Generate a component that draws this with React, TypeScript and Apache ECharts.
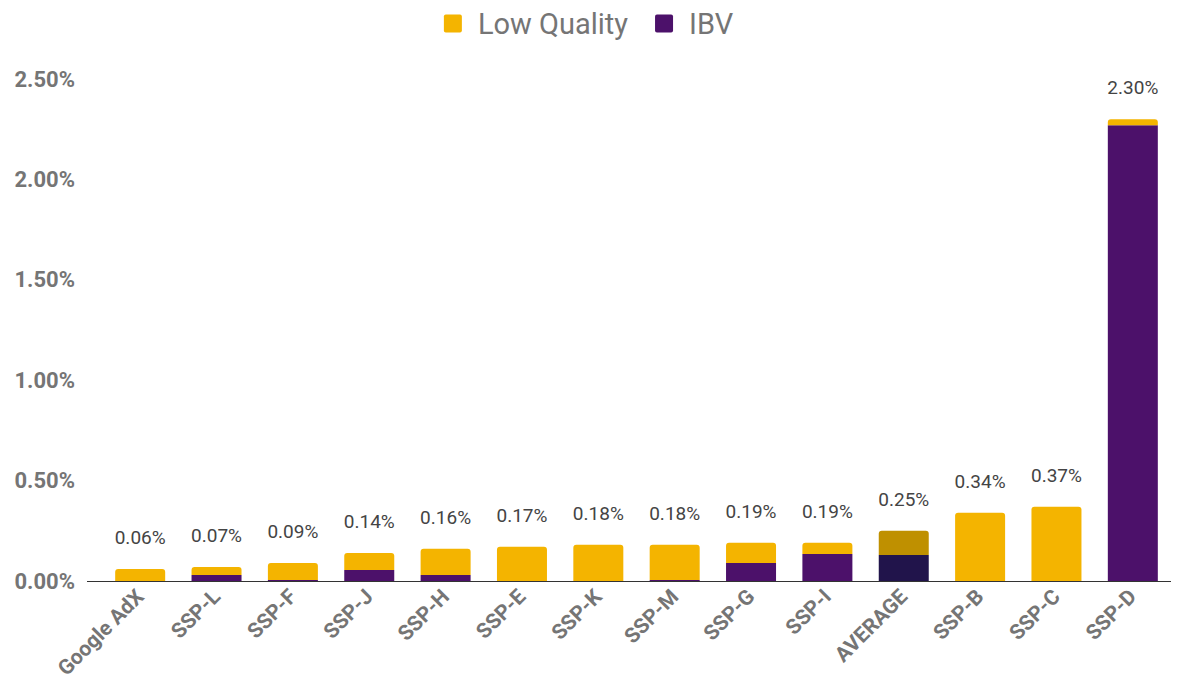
import React, { useEffect, useRef } from "react";
import * as echarts from "echarts";

// Share of impressions by supply source, split into IBV and Low Quality
const categories = [
  "Google AdX", "SSP-L", "SSP-F", "SSP-J", "SSP-H", "SSP-E", "SSP-K",
  "SSP-M", "SSP-G", "SSP-I", "AVERAGE", "SSP-B", "SSP-C", "SSP-D",
];
const ibv = [0, 0.03, 0.005, 0.055, 0.03, 0, 0, 0.005, 0.09, 0.135, 0.13, 0, 0, 2.27];
const lowQuality = [0.06, 0.04, 0.085, 0.085, 0.13, 0.17, 0.18, 0.175, 0.1, 0.055, 0.12, 0.34, 0.37, 0.03];
const yTicks = { min: 0, max: 2.5, interval: 0.5 };

const YELLOW = "#F4B400";
const PURPLE = "#4C116A";
const AVG_YELLOW = "#BF9000";
const AVG_PURPLE = "#21144B";
const FONT = "Roboto, 'Noto Sans', sans-serif";

export default function App() {
  const ref = useRef<HTMLDivElement>(null);

  useEffect(() => {
    if (!ref.current) return;
    const chart = echarts.init(ref.current, undefined, { renderer: "svg" });
    const totals = categories.map((_, i) => ibv[i] + lowQuality[i]);
    const avgIndex = categories.indexOf("AVERAGE");

    chart.setOption({
      animation: false,
      textStyle: { fontFamily: FONT },
      legend: {
        data: ["Low Quality", "IBV"],
        top: 4,
        left: "center",
        icon: "path://M2,0 L17,0 Q19,0 19,2 L19,17 Q19,19 17,19 L2,19 Q0,19 0,17 L0,2 Q0,0 2,0 Z",
        itemWidth: 18,
        itemHeight: 18,
        itemGap: 27,
        textStyle: {
          fontSize: 29,
          color: "#757575",
          fontFamily: FONT,
          padding: [0, 0, 0, 11],
        },
      },
      grid: { left: 102, right: 6, top: 79, bottom: 115 },
      // baseline rule, extending slightly left of the first category
      graphic: [
        {
          type: "line",
          z: 0,
          shape: { x1: 87, y1: 581.5, x2: 1171, y2: 581.5 },
          style: { stroke: "#333333", lineWidth: 1 },
        },
      ],
      xAxis: {
        type: "category",
        data: categories,
        axisTick: { show: false },
        axisLine: { show: false },
        axisLabel: {
          rotate: 45,
          interval: 0,
          margin: 12,
          fontSize: 21,
          fontWeight: "bold",
          color: "#757575",
          fontFamily: FONT,
        },
      },
      yAxis: {
        type: "value",
        min: yTicks.min,
        max: yTicks.max,
        interval: yTicks.interval,
        splitLine: { show: false },
        axisLine: { show: false },
        axisTick: { show: false },
        axisLabel: {
          formatter: (v: number) => v.toFixed(2) + "%",
          fontSize: 22,
          fontWeight: "bold",
          color: "#757575",
          margin: 27,
          fontFamily: FONT,
        },
      },
      series: [
        {
          name: "IBV",
          type: "bar",
          stack: "total",
          barWidth: 50,
          itemStyle: { color: PURPLE },
          data: ibv.map((v, i) =>
            i === avgIndex ? { value: v, itemStyle: { color: AVG_PURPLE } } : v
          ),
        },
        {
          name: "Low Quality",
          type: "bar",
          stack: "total",
          barWidth: 50,
          itemStyle: { color: YELLOW, borderRadius: [3, 3, 0, 0] },
          label: {
            show: true,
            position: "top",
            distance: 22,
            fontSize: 19,
            color: "#444444",
            fontFamily: FONT,
            formatter: (p: any) => totals[p.dataIndex].toFixed(2) + "%",
          },
          data: lowQuality.map((v, i) =>
            i === avgIndex ? { value: v, itemStyle: { color: AVG_YELLOW } } : v
          ),
        },
      ],
    });

    return () => chart.dispose();
  }, []);

  return (
    <div
      ref={ref}
      style={{ position: "fixed", left: 0, top: 0, width: 1177, height: 696, background: "#fff" }}
    />
  );
}
